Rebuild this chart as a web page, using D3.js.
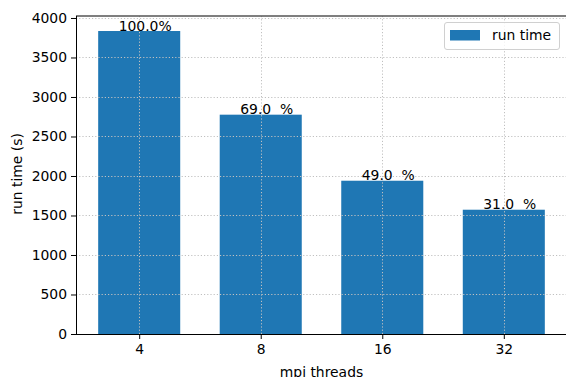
<!DOCTYPE html>
<html><head><meta charset="utf-8">
<script src="https://cdn.jsdelivr.net/npm/d3@7"></script>
<style>body{margin:0;background:#fff}svg{display:block;font-family:"DejaVu Sans",sans-serif}</style>
</head><body><svg id="c" width="566" height="377"></svg>
<script>
const categories = ["4","8","16","32"];
const runTimes = [3835, 2776, 1940, 1573];
const pctLabels = ["100.0%", "69.0  %", "49.0  %", "31.0  %"];
const yTicks = [0,500,1000,1500,2000,2500,3000,3500,4000];
const seriesName = "run time";

const svg = d3.select("#c");
const L = 76, R = 567, T = 16, B = 334;
const x = d3.scaleLinear().domain([-0.52, 3.52]).range([L, R]);
const y = d3.scaleLinear().domain([0, 4025]).range([B, T]);
const bw = x(0.675) - x(0);
const fs = 13.9;

// bars
svg.append("g").selectAll("rect").data(runTimes).join("rect")
  .attr("x", (d,i)=>x(i)-bw/2).attr("width", bw)
  .attr("y", d=>y(d)).attr("height", d=>y(0)-y(d))
  .attr("fill", "#1f77b4");

// grid
const grid = svg.append("g").attr("stroke", "#c0c0c0").attr("stroke-width", 1).attr("stroke-dasharray", "1.2,2");
grid.selectAll(".gy").data(yTicks).join("line")
  .attr("x1", L).attr("x2", R).attr("y1", d=>Math.round(y(d))+0.5).attr("y2", d=>Math.round(y(d))+0.5);
grid.selectAll(".gx").data(categories).join("line")
  .attr("y1", T).attr("y2", B).attr("x1", (d,i)=>Math.round(x(i))+0.5).attr("x2", (d,i)=>Math.round(x(i))+0.5);

// labels above bars
svg.append("g").selectAll("text").data(runTimes).join("text")
  .attr("x", (d,i)=>x(i)-bw/2+bw/4).attr("y", d=>y(d)-0.5)
  .attr("font-size", fs).attr("fill", "#000").style("white-space", "pre")
  .text((d,i)=>pctLabels[i]);

// axes
const yAxis = d3.axisLeft(y).tickValues(yTicks).tickFormat(d3.format("d")).tickSize(5).tickPadding(4);
const gy = svg.append("g").attr("transform", `translate(${L},0)`).call(yAxis);
gy.select(".domain").remove();
const xAxis = d3.axisBottom(x).tickValues([0,1,2,3]).tickFormat(i=>categories[i]).tickSize(5).tickPadding(5);
const gx = svg.append("g").attr("transform", `translate(0,${B})`).call(xAxis);
gx.select(".domain").remove();
[gy, gx].forEach(g=>{
  g.selectAll("text").attr("font-size", fs).attr("font-family", "DejaVu Sans").attr("fill", "#000");
  g.selectAll("line").attr("stroke", "#000").attr("stroke-width", 1);
});

// spines
svg.append("line").attr("x1", L).attr("x2", R).attr("y1", T).attr("y2", T).attr("stroke", "#555").attr("stroke-width", 1.6);
svg.append("line").attr("x1", L+0.5).attr("x2", L+0.5).attr("y1", T).attr("y2", B).attr("stroke", "#000").attr("stroke-width", 1);
svg.append("line").attr("x1", L).attr("x2", R).attr("y1", B+0.5).attr("y2", B+0.5).attr("stroke", "#000").attr("stroke-width", 1);

// axis labels
svg.append("text").attr("x", (L+R)/2).attr("y", 376.5).attr("text-anchor", "middle").attr("font-size", fs).text("mpi threads");
svg.append("text").attr("transform", `translate(22,174) rotate(-90)`).attr("text-anchor", "middle").attr("font-size", fs).text("run time (s)");

// legend
const lg = svg.append("g");
lg.append("rect").attr("x", 444.5).attr("y", 22.5).attr("width", 115).attr("height", 27).attr("rx", 2.5)
  .attr("fill", "#fff").attr("fill-opacity", 0.8).attr("stroke", "#d0d0d0");
lg.append("rect").attr("x", 450).attr("y", 30).attr("width", 30).attr("height", 10.5).attr("fill", "#1f77b4");
lg.append("text").attr("x", 492).attr("y", 40).attr("font-size", fs).text(seriesName);
</script></body></html>
